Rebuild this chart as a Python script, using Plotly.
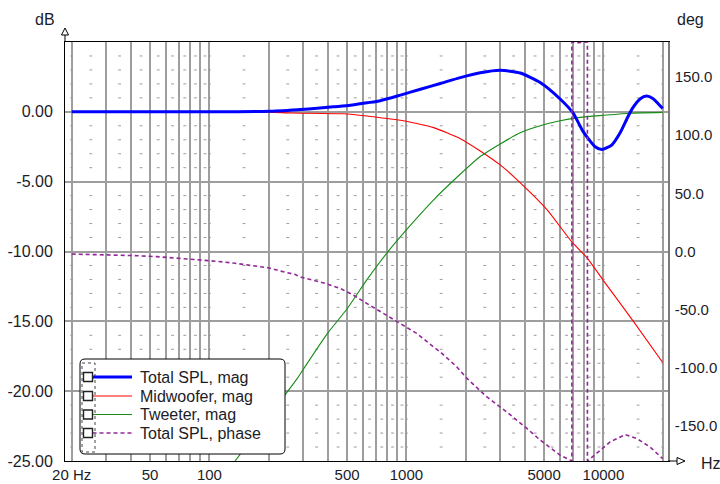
import plotly.graph_objects as go

# ---------------- data ----------------
total_freq = [20, 100, 200, 290, 352, 426, 520, 632, 738, 933, 1178, 1486, 1877, 2370,
              2994, 3780, 4775, 6030, 7010, 7880, 9080, 9830, 11050, 12140, 13320,
              14120, 15400, 16560, 17820, 20000]
total_db = [0, 0, 0.04, 0.17, 0.25, 0.36, 0.47, 0.65, 0.8, 1.2, 1.62, 2.03, 2.45, 2.8,
            2.98, 2.78, 2.1, 0.92, -0.08, -1.4, -2.5, -2.7, -2.36, -1.52, -0.35,
            0.3, 0.94, 1.13, 0.96, 0.23]

mid_freq = [20, 200, 260, 479, 632, 738, 933, 1131, 1374, 1877, 2370, 2994, 3637, 5170,
            6900, 8260, 10020, 14200, 20000]
mid_db = [0, -0.02, -0.08, -0.14, -0.3, -0.42, -0.6, -0.84, -1.13, -1.92, -2.8, -3.8,
          -4.85, -7.0, -9.3, -10.45, -12.1, -15.0, -17.95]

tw_freq = [110, 135, 200, 279, 296, 396, 500, 632, 797, 1007, 1375, 1739, 2370, 2994,
           3780, 4775, 6030, 7610, 10020, 13650, 20000]
tw_db = [-26.7, -25.0, -21.8, -19.1, -18.55, -15.9, -14.1, -12.0, -10.1, -8.4, -6.3,
         -4.9, -3.2, -2.3, -1.5, -1.0, -0.64, -0.4, -0.25, -0.1, -0.04]

phase_freq = [20, 35, 41, 54, 68, 86, 109, 132, 167, 199, 229, 273, 289, 380, 463, 540,
              632, 767, 933, 1131, 1375, 1486, 1805, 2030, 2564, 3237, 4087, 4775, 6030,
              6600, 6918, 6918, 7500, 8296, 8296, 8590, 9630, 10820, 12940, 14770,
              17260, 20000]
phase_deg = [-2.2, -2.9, -3.5, -4.4, -5.6, -6.7, -8.4, -9.9, -12.1, -14.0, -16.8, -19.8,
             -21.9, -27.0, -31.9, -37.6, -44.8, -53.3, -61.9, -70.5, -82.0, -86.3,
             -99.2, -109.0, -125.0, -138.0, -152.0, -162.0, -175.0, -178.5, -180.0,
             180.0, 179.3, 180.0, -180.0, -178.0, -171.0, -163.6, -157.3, -160.7,
             -168.0, -178.0]

series_names = ["Total SPL, mag", "Midwoofer, mag", "Tweeter, mag", "Total SPL, phase"]

x_tick_vals = [20, 50, 100, 500, 1000, 5000, 10000]
x_tick_text = ["20 Hz", "50", "100", "500", "1000", "5000", "10000"]
db_tick_vals = [-25, -20, -15, -10, -5, 0]
db_tick_text = ["-25.00", "-20.00", "-15.00", "-10.00", "-5.00", "0.00"]
deg_tick_vals = [-150, -100, -50, 0, 50, 100, 150]
deg_tick_text = ["-150.0", "-100.0", "-50.0", "0.0", "50.0", "100.0", "150.0"]

# ---------------- geometry helpers ----------------
# the page body margin is removed (post_script) so the figure fills the window
OFF = 0
W, H = 720, 484
ML, MR, MT, MB = 65, 52, 42, 23
PW = W - ML - MR
PH = H - MT - MB
PX_PER_DEC = 197.0
X_LO = 1.267
X_RANGE = [X_LO, X_LO + PW / PX_PER_DEC]


def fx(sx):
    """screen x (window pixels) -> paper fraction"""
    return (sx - OFF - ML) / PW


def fy(sy):
    """screen y (window pixels) -> paper fraction"""
    return (H - MB - (sy - OFF)) / PH


FONT = "Liberation Sans, Arial, sans-serif"
FS = 16
TXT = "#1c1c28"
GRID = "#9e9e9e"

BLUE = "#0000ff"
RED = "#ff0000"
GREEN = "#168c16"
PURPLE = "#93279a"

# grid positions
minor_grid = []
for dec in (10, 100, 1000, 10000):
    for m in range(2, 10):
        v = m * dec
        if 20 <= v <= 20000 and v not in x_tick_vals:
            minor_grid.append(v)
minor_grid.append(20000)

dot_x_pos = [20, 20000]
for dec in (10, 100, 1000, 10000):
    for m in (1, 1.5, 2.5, 3.5, 4.5, 5.5, 6.5, 7.5, 8.5, 9.5):
        v = m * dec
        if 20 <= v <= 20000:
            dot_x_pos.append(v)
dot_xs, dot_ys = [], []
for v in dot_x_pos:
    for d in range(-24, 5):
        dot_xs.append(v)
        dot_ys.append(d)

fig = go.Figure()

fig.add_trace(go.Scatter(
    x=dot_xs, y=dot_ys, mode="markers", hoverinfo="skip", showlegend=False,
    marker=dict(symbol="line-ew", size=2, line=dict(width=1, color="#999999")),
))

fig.add_trace(go.Scatter(x=mid_freq, y=mid_db, name=series_names[1], mode="lines",
                         line=dict(color=RED, width=1.1, shape="spline", smoothing=0.6),
                         showlegend=False))
fig.add_trace(go.Scatter(x=tw_freq, y=tw_db, name=series_names[2], mode="lines",
                         line=dict(color=GREEN, width=1.1, shape="spline", smoothing=0.6),
                         showlegend=False))
fig.add_trace(go.Scatter(x=phase_freq, y=phase_deg, name=series_names[3], mode="lines",
                         yaxis="y2",
                         line=dict(color=PURPLE, width=1.6, dash="4px,3px"),
                         showlegend=False))
fig.add_trace(go.Scatter(x=total_freq, y=total_db, name=series_names[0], mode="lines",
                         line=dict(color=BLUE, width=3, shape="spline", smoothing=0.6),
                         showlegend=False))

fig.update_layout(
    width=W, height=H,
    margin=dict(l=ML, r=MR, t=MT, b=MB, pad=0),
    paper_bgcolor="white", plot_bgcolor="white",
    font=dict(family=FONT, size=FS, color=TXT),
    showlegend=False,
    xaxis=dict(
        type="log", range=X_RANGE, automargin=False,
        tickvals=x_tick_vals, ticktext=x_tick_text, ticks="", ticklabelstandoff=0,
        showgrid=True, gridcolor=GRID, gridwidth=1.5,
        minor=dict(tickvals=minor_grid, showgrid=True, gridcolor=GRID, gridwidth=1.5, ticks=""),
        showline=True, linecolor="black", linewidth=1, mirror=True,
        zeroline=False, tickfont=dict(size=15, color=TXT),
    ),
    yaxis=dict(
        range=[-25, 5], automargin=False,
        tickvals=db_tick_vals, ticktext=db_tick_text, ticks="", ticklabelstandoff=8,
        showgrid=True, gridcolor=GRID, gridwidth=1.5,
        showline=True, linecolor="black", linewidth=1,
        zeroline=False, tickfont=dict(size=FS, color=TXT),
    ),
    yaxis2=dict(
        range=[-180, 180], overlaying="y", side="right", automargin=False,
        tickvals=deg_tick_vals, ticktext=deg_tick_text, ticks="", ticklabelstandoff=2,
        showgrid=False, showline=True, linecolor="#7a7a7a", linewidth=1.5,
        zeroline=False, tickfont=dict(size=15, color=TXT),
    ),
)

shapes = []
# axis extensions + arrow heads
shapes.append(dict(type="line", xref="paper", yref="paper", x0=fx(65), x1=fx(65),
                   y0=1, y1=fy(35), line=dict(color="black", width=1)))
shapes.append(dict(type="path", xref="paper", yref="paper",
                   path=f"M {fx(65)},{fy(28)} L {fx(68.5)},{fy(35)} L {fx(61.5)},{fy(35)} Z",
                   line=dict(color="black", width=1), fillcolor="white"))
shapes.append(dict(type="line", xref="paper", yref="paper", x0=1, x1=fx(677),
                   y0=0, y1=0, line=dict(color="black", width=1)))
shapes.append(dict(type="path", xref="paper", yref="paper",
                   path=f"M {fx(685)},{fy(461)} L {fx(677)},{fy(457.5)} L {fx(677)},{fy(464.5)} Z",
                   line=dict(color="black", width=1), fillcolor="white"))

# legend box (rounded)
lx0, lx1, ly0, ly1, r = 80, 285, 359, 454, 5
rx, ry = r / PW, r / PH
X0, X1, Ytop, Ybot = fx(lx0), fx(lx1), fy(ly0), fy(ly1)
path = (f"M {X0+rx},{Ytop} L {X1-rx},{Ytop} Q {X1},{Ytop} {X1},{Ytop-ry} "
        f"L {X1},{Ybot+ry} Q {X1},{Ybot} {X1-rx},{Ybot} L {X0+rx},{Ybot} "
        f"Q {X0},{Ybot} {X0},{Ybot+ry} L {X0},{Ytop-ry} Q {X0},{Ytop} {X0+rx},{Ytop} Z")
shapes.append(dict(type="path", xref="paper", yref="paper", path=path, layer="above",
                   fillcolor="white", line=dict(color="black", width=1)))
shapes.append(dict(type="rect", xref="paper", yref="paper", layer="above",
                   x0=fx(82), x1=fx(95), y0=fy(363), y1=fy(452),
                   line=dict(color="#444", width=1, dash="dot")))

row_y = [377, 396, 414.5, 433]
styles = [dict(color=BLUE, width=3), dict(color=RED, width=1.1),
          dict(color=GREEN, width=1.1), dict(color=PURPLE, width=1.5, dash="4px,3px")]
annotations = []
for yy, st, name in zip(row_y, styles, series_names):
    shapes.append(dict(type="line", xref="paper", yref="paper", layer="above",
                       x0=fx(92.5), x1=fx(132), y0=fy(yy), y1=fy(yy), line=st))
    shapes.append(dict(type="rect", xref="paper", yref="paper", layer="above",
                       x0=fx(83.5), x1=fx(92.5), y0=fy(yy - 4.5), y1=fy(yy + 4.5),
                       fillcolor="white", line=dict(color="#222", width=1.4)))
    annotations.append(dict(text=name, xref="paper", yref="paper", x=fx(138), y=fy(yy),
                            xanchor="left", yanchor="middle", showarrow=False,
                            font=dict(size=FS, color=TXT, family=FONT)))

annotations.append(dict(text="dB", xref="paper", yref="paper", x=fx(45), y=fy(19),
                        xanchor="center", yanchor="middle", showarrow=False,
                        font=dict(size=FS, color=TXT, family=FONT)))
annotations.append(dict(text="deg", xref="paper", yref="paper", x=fx(690), y=fy(19),
                        xanchor="center", yanchor="middle", showarrow=False,
                        font=dict(size=FS, color=TXT, family=FONT)))
annotations.append(dict(text="Hz", xref="paper", yref="paper", x=fx(699), y=fy(463),
                        xanchor="left", yanchor="middle", showarrow=False,
                        font=dict(size=FS, color=TXT, family=FONT)))

fig.update_layout(shapes=shapes, annotations=annotations)

fig.write_html("out.html",
               config={"displayModeBar": False},
               post_script="document.body.style.margin='0';document.body.style.overflow='hidden';")
